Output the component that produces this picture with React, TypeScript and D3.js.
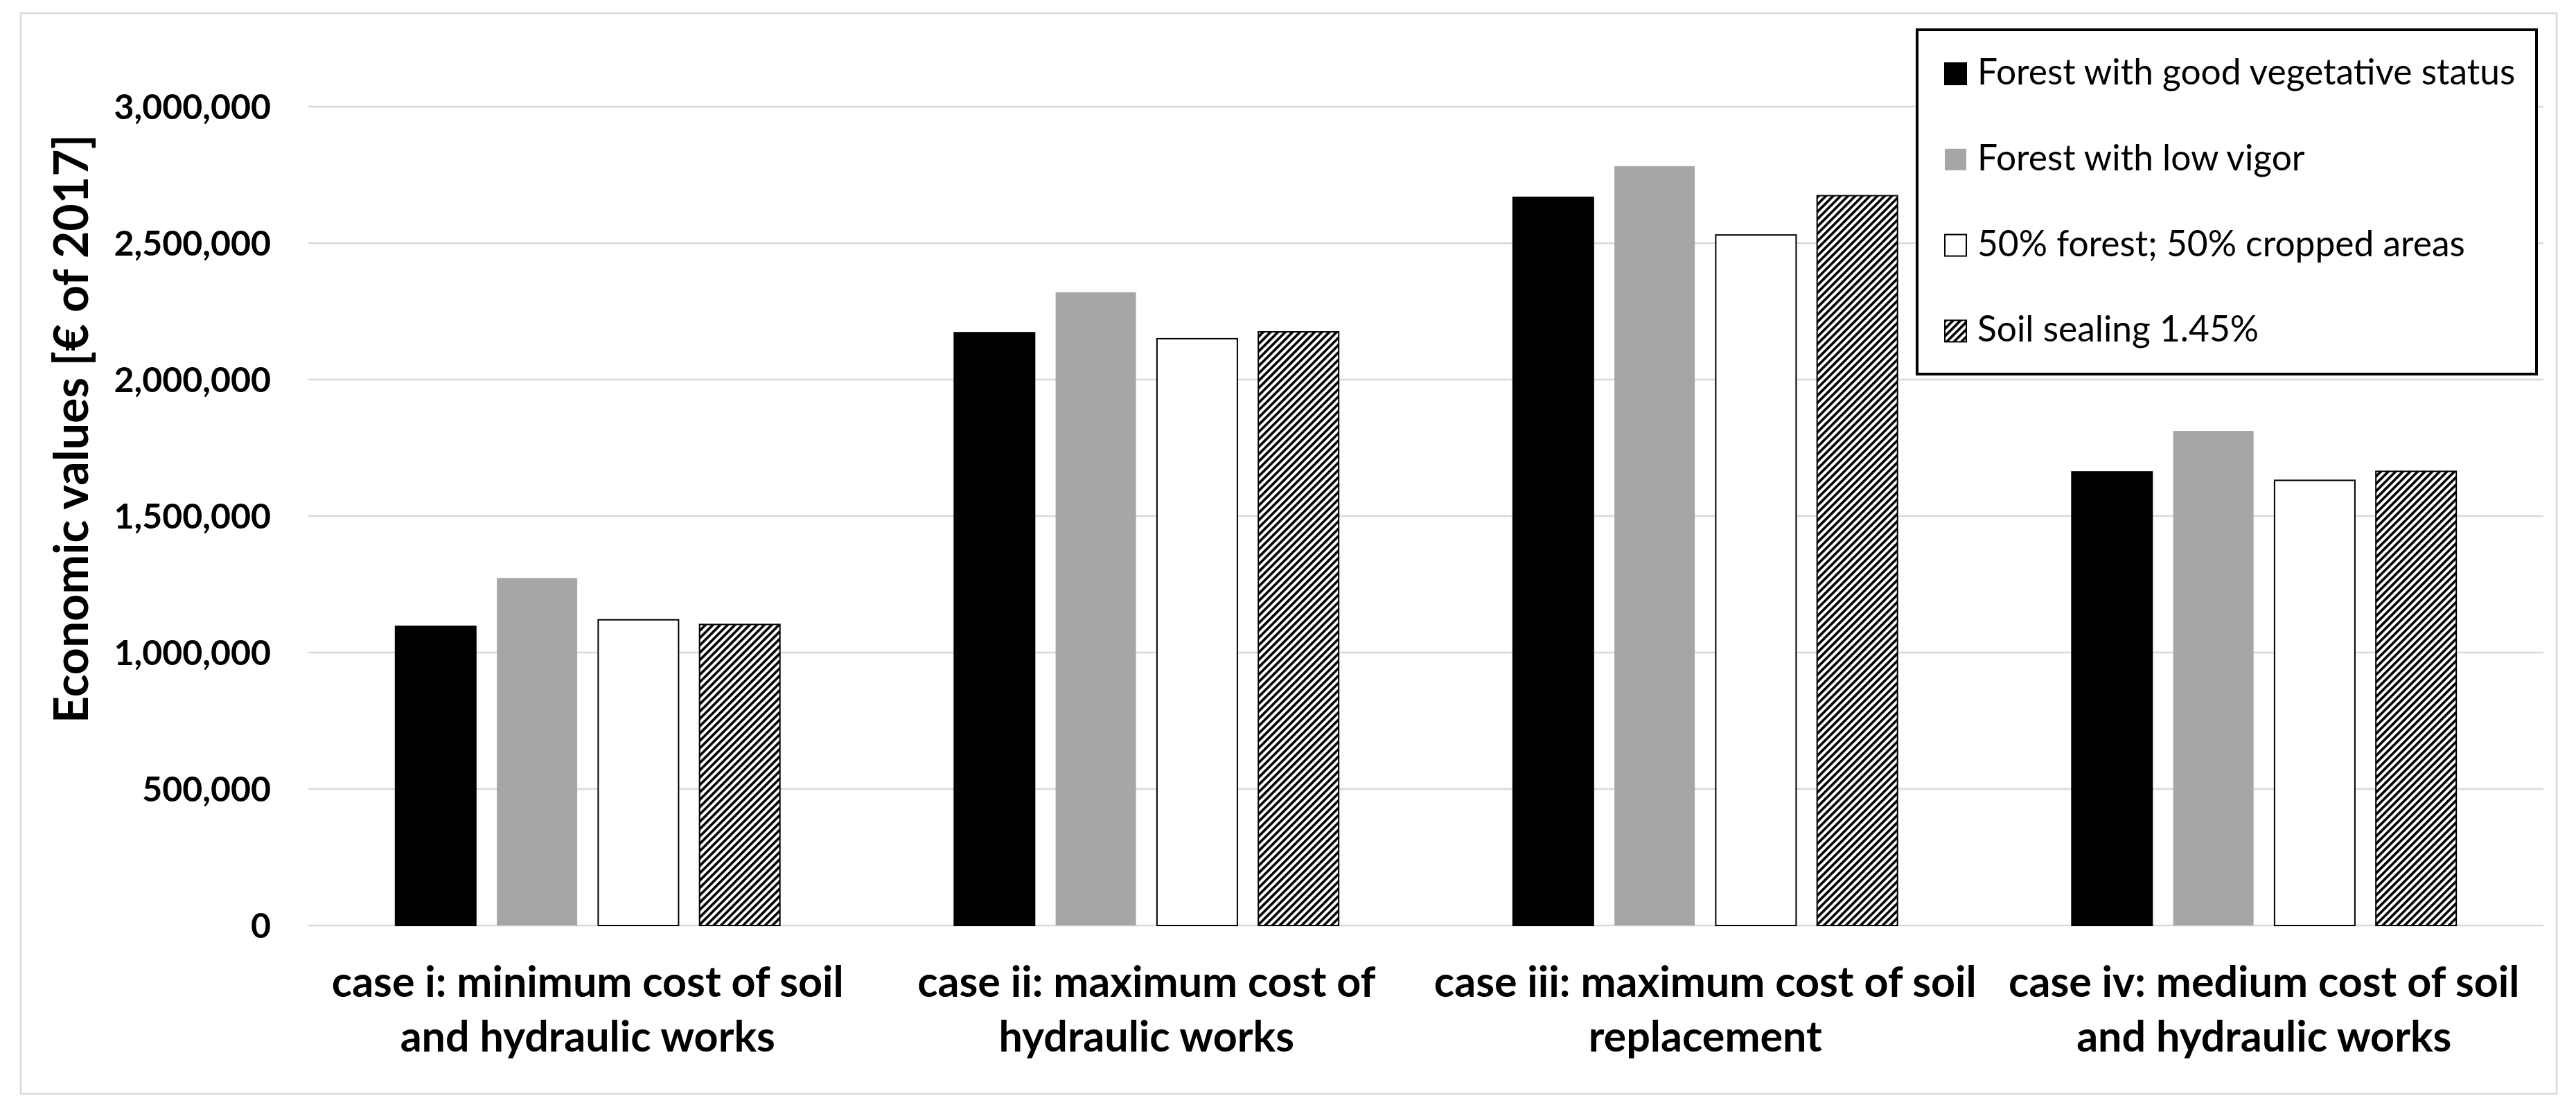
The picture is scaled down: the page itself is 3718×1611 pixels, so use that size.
import * as d3 from 'd3'

const categories = [
  ['case i: minimum cost of soil', 'and hydraulic works'],
  ['case ii: maximum cost of', 'hydraulic works'],
  ['case iii: maximum cost of soil', 'replacement'],
  ['case iv: medium cost of soil', 'and hydraulic works'],
]
const seriesNames = [
  'Forest with good vegetative status',
  'Forest with low vigor',
  '50% forest; 50% cropped areas',
  'Soil sealing 1.45%',
]
const goodVegetative = [1096000, 2172000, 2668000, 1662000]
const lowVigor = [1273000, 2320000, 2782000, 1812000]
const forestCropped = [1120000, 2150000, 2530000, 1631000]
const soilSealing = [1103000, 2175000, 2674000, 1664000]
const yTicks = [0, 500000, 1000000, 1500000, 2000000, 2500000, 3000000]

const W = 3718
const H = 1611
const FONT = 'Lato, Carlito, Calibri, sans-serif'

const styles = [
  { fill: '#000000', stroke: '#000000' },
  { fill: '#a6a6a6', stroke: 'none' },
  { fill: '#ffffff', stroke: '#000000' },
  { fill: 'url(#hatch)', stroke: '#000000' },
]

export default function App() {
  const series = [goodVegetative, lowVigor, forestCropped, soilSealing]
  const keys = categories.map((c) => c.join(' '))

  const x0 = d3.scaleBand<string>().domain(keys).range([445, 3671]).paddingInner(0.312).paddingOuter(0.156)
  const x1 = d3.scaleBand<number>().domain(d3.range(series.length)).range([0, x0.bandwidth()]).paddingInner(0.207)
  const y = d3.scaleLinear().domain([0, 3000000]).range([1336, 154])
  const fmt = d3.format(',')

  return (
    <svg width={W} height={H} style={{ position: 'absolute', left: 0, top: 0, background: '#fff' }} fontFamily={FONT}>
      <defs>
        <pattern id="hatch" width={7.5} height={7.5} patternUnits="userSpaceOnUse" patternTransform="rotate(45)">
          <rect width={7.5} height={7.5} fill="#fff" />
          <rect width={3.6} height={7.5} fill="#000" />
        </pattern>
      </defs>
      <rect x={0} y={0} width={W} height={H} fill="#fff" />
      <rect x={30} y={19} width={3660} height={1560} fill="none" stroke="#d9d9d9" strokeWidth={2.5} />

      {yTicks.map((t) => (
        <g key={t}>
          <line x1={x0.range()[0]} x2={x0.range()[1]} y1={y(t)} y2={y(t)} stroke="#d9d9d9" strokeWidth={2.5} />
          <text x={391} y={y(t)} dy="0.36em" textAnchor="end" fontSize={50} fontWeight="bold" fill="#000">
            {fmt(t)}
          </text>
        </g>
      ))}

      {keys.map((k, ci) => (
        <g key={k} transform={`translate(${x0(k)},0)`}>
          {series.map((vals, si) => (
            <rect
              key={si}
              x={x1(si)}
              y={y(vals[ci])}
              width={x1.bandwidth()}
              height={y(0) - y(vals[ci])}
              fill={styles[si].fill}
              stroke={styles[si].stroke}
              strokeWidth={2}
            />
          ))}
          {categories[ci].map((line, li) => (
            <text
              key={li}
              x={x0.bandwidth() / 2}
              y={1439 + li * 79}
              textAnchor="middle"
              fontSize={61}
              fontWeight="bold"
              fill="#000"
            >
              {line}
            </text>
          ))}
        </g>
      ))}

      <text
        transform="translate(127,619) rotate(-90)"
        textAnchor="middle"
        fontSize={68}
        fontWeight="bold"
        fill="#000"
      >
        Economic values [€ of 2017]
      </text>

      <g>
        <rect x={2767} y={43} width={894} height={497} fill="#fff" stroke="#000" strokeWidth={4} />
        {seriesNames.map((name, si) => (
          <g key={name} transform={`translate(2807,${122 + si * 123.8})`}>
            <rect
              x={0}
              y={-31}
              width={31}
              height={31}
              fill={styles[si].fill}
              stroke={styles[si].stroke}
              strokeWidth={2}
            />
            <text x={47} y={0} fontSize={51.5} fill="#000">
              {name}
            </text>
          </g>
        ))}
      </g>
    </svg>
  )
}
